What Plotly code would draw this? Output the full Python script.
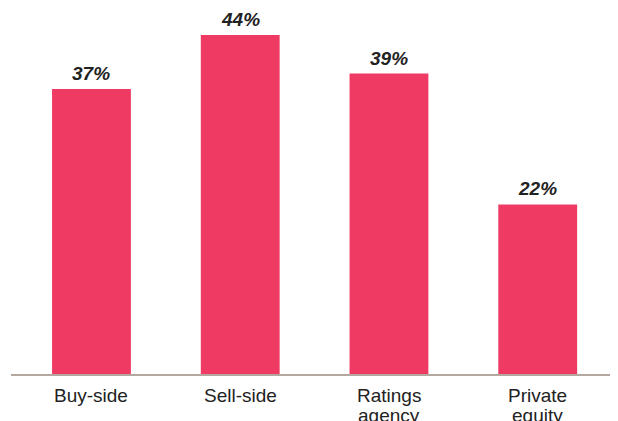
import plotly.graph_objects as go

categories = ["Buy-side", "Sell-side", "Ratings", "Private"]
categories_line2 = ["", "", "agency", "equity"]
values = [37, 44, 39, 22]
value_labels = ["37%", "44%", "39%", "22%"]

xs = list(range(len(categories)))
FONT = "Liberation Sans, Arial, Helvetica, sans-serif"

fig = go.Figure()
fig.add_trace(go.Bar(
    x=xs, y=values, width=0.53,
    marker=dict(color="#EF3B63", line=dict(width=0)),
    hoverinfo="skip",
))

for x, v, t in zip(xs, values, value_labels):
    fig.add_annotation(
        x=x, y=v, text="<b><i>" + t + "</i></b>", showarrow=False,
        yanchor="bottom", yshift=3,
        font=dict(family=FONT, size=19, color="#222222"),
    )

for x, l1, l2 in zip(xs, categories, categories_line2):
    fig.add_annotation(
        x=x, y=0, text=l1, showarrow=False, yanchor="top", yshift=-9,
        font=dict(family=FONT, size=19, color="#222222"),
    )
    if l2:
        fig.add_annotation(
            x=x, y=0, text=l2, showarrow=False, yanchor="top", yshift=-29,
            font=dict(family=FONT, size=19, color="#222222"),
        )

fig.update_layout(
    width=618, height=421,
    margin=dict(l=11, r=8, t=0, b=47),
    paper_bgcolor="white", plot_bgcolor="white",
    showlegend=False,
    xaxis=dict(
        range=[-0.541, 3.486],
        showgrid=False, zeroline=False, showticklabels=False,
        showline=True, linecolor="#B3A79F", linewidth=2,
        ticks="", automargin=False,
    ),
    yaxis=dict(
        range=[0, 48.54], visible=False, showgrid=False, zeroline=False,
        automargin=False,
    ),
)

fig.write_html("out.html")
